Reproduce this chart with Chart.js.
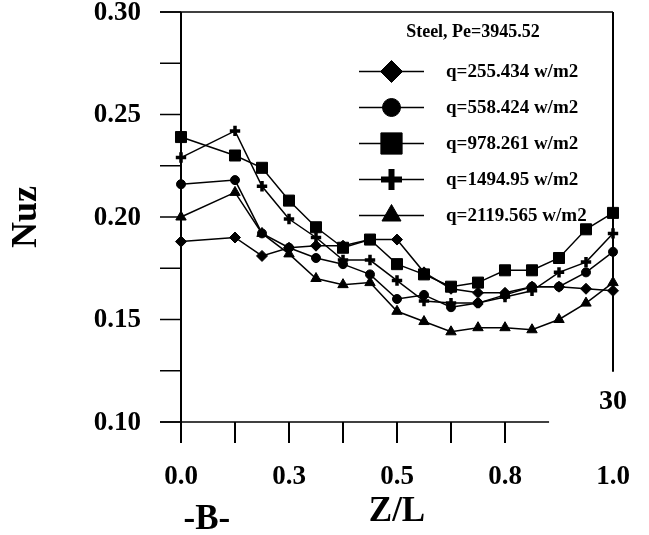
<!DOCTYPE html>
<html>
<head>
<meta charset="utf-8">
<script src="https://cdn.jsdelivr.net/npm/chart.js@4.4.1/dist/chart.umd.min.js"></script>
<style>
  html, body { margin: 0; padding: 0; background: #ffffff; }
  #wrap { width: 649px; height: 535px; position: relative; }
</style>
</head>
<body>
<div id="wrap"><canvas id="nuzChart"></canvas></div>
<script>
// Axial positions Z/L of the measuring stations
const zPositions = [0, 0.125, 0.1875, 0.25, 0.3125, 0.375, 0.4375, 0.5, 0.5625, 0.625, 0.6875, 0.75, 0.8125, 0.875, 0.9375, 1.0];

// Local Nusselt number for each heat flux
const nuzQ255  = [0.188, 0.190, 0.181, 0.185, 0.186, 0.186, 0.189, 0.189, 0.173, 0.165, 0.163, 0.163, 0.166, 0.166, 0.165, 0.164];
const nuzQ558  = [0.216, 0.218, 0.192, 0.185, 0.180, 0.177, 0.172, 0.160, 0.162, 0.156, 0.158, 0.162, 0.166, 0.166, 0.173, 0.183];
const nuzQ978  = [0.239, 0.230, 0.224, 0.208, 0.195, 0.185, 0.189, 0.177, 0.172, 0.166, 0.168, 0.174, 0.174, 0.180, 0.194, 0.202];
const nuzQ1495 = [0.229, 0.242, 0.215, 0.199, 0.190, 0.179, 0.179, 0.169, 0.159, 0.158, 0.158, 0.161, 0.164, 0.173, 0.178, 0.192];
const nuzQ2120 = [0.200, 0.212, 0.192, 0.182, 0.170, 0.167, 0.168, 0.154, 0.149, 0.144, 0.146, 0.146, 0.145, 0.150, 0.158, 0.168];

const seriesNames = ['q=255.434 w/m2', 'q=558.424 w/m2', 'q=978.261 w/m2', 'q=1494.95 w/m2', 'q=2119.565 w/m2'];
const seriesValues = [nuzQ255, nuzQ558, nuzQ978, nuzQ1495, nuzQ2120];

const legendTitle = 'Steel, Pe=3945.52';

// Axis ticks
const yMin = 0.10, yMax = 0.30, yMinorStep = 0.025;
const yTickValues = [0.10, 0.15, 0.20, 0.25, 0.30];
const yTickLabels = ['0.10', '0.15', '0.20', '0.25', '0.30'];
const xMinorStep = 0.125, xMinorLast = 0.75;
const xTickValues = [0, 0.25, 0.5, 0.75, 1.0];
const xTickLabels = ['0.0', '0.3', '0.5', '0.8', '1.0'];

const xTitle = 'Z/L';
const yTitle = 'Nuz';
const panelTag = '-B-';
const cornerTag = '30';

// Marker look per series: style, plot radius, legend radius, stroke widths
const markerStyles = [
  { style: 'rectRot',  r: 5.5, lr: 11,   bw: 1,   lbw: 1 },
  { style: 'circle',   r: 4.5, lr: 9,    bw: 1,   lbw: 1 },
  { style: 'rect',     r: 7.8, lr: 15,   bw: 1,   lbw: 1 },
  { style: 'cross',    r: 5.2, lr: 10.5, bw: 3.5, lbw: 6 },
  { style: 'triangle', r: 6,   lr: 11,   bw: 1,   lbw: 1 }
];

const FONT = '"Liberation Serif", "Times New Roman", Times, serif';

function drawMarker(ctx, style, x, y, r, bw) {
  ctx.save();
  ctx.fillStyle = '#000';
  ctx.strokeStyle = '#000';
  ctx.lineWidth = bw;
  const helpers = Chart.helpers;
  if (helpers && helpers.drawPoint) {
    helpers.drawPoint(ctx, { pointStyle: style, radius: r, rotation: 0, borderWidth: bw }, x, y);
  } else {
    ctx.beginPath();
    if (style === 'rectRot') {
      ctx.moveTo(x - r, y); ctx.lineTo(x, y - r); ctx.lineTo(x + r, y); ctx.lineTo(x, y + r); ctx.closePath(); ctx.fill();
    } else if (style === 'circle') {
      ctx.arc(x, y, r, 0, Math.PI * 2); ctx.fill();
    } else if (style === 'rect') {
      const s = r * Math.SQRT1_2; ctx.rect(x - s, y - s, 2 * s, 2 * s); ctx.fill();
    } else if (style === 'cross') {
      ctx.moveTo(x, y - r); ctx.lineTo(x, y + r); ctx.moveTo(x - r, y); ctx.lineTo(x + r, y); ctx.stroke();
    } else {
      ctx.moveTo(x, y - r); ctx.lineTo(x + 0.866 * r, y + 0.5 * r); ctx.lineTo(x - 0.866 * r, y + 0.5 * r); ctx.closePath(); ctx.fill();
    }
  }
  ctx.restore();
}

function line(ctx, x1, y1, x2, y2, w) {
  ctx.beginPath();
  ctx.lineWidth = w;
  ctx.moveTo(x1, y1);
  ctx.lineTo(x2, y2);
  ctx.stroke();
}

// Frame, ticks and axis text drawn from the chart's own scales
const axisFrame = {
  id: 'axisFrame',
  beforeDatasetsDraw(chart) {
    const ctx = chart.ctx;
    const xs = chart.scales.x, ys = chart.scales.y;
    const L = xs.getPixelForValue(0), R = xs.getPixelForValue(1);
    const T = ys.getPixelForValue(yMax), B = ys.getPixelForValue(yMin);
    const tick = 21;
    ctx.save();
    ctx.strokeStyle = '#000';
    ctx.lineCap = 'butt';
    // top border, extended over the tick length
    line(ctx, L - tick, T, R, T, 1.5);
    // left axis
    line(ctx, L, T, L, B, 2);
    // right border stops above the corner tag
    line(ctx, R, T, R, ys.getPixelForValue(0.1245), 2);
    // bottom axis stops short of the right edge
    line(ctx, L - tick, B, xs.getPixelForValue(0.852), B, 1.5);
    // y ticks (outside, every 0.025)
    for (let v = yMin; v <= yMax + 1e-9; v += yMinorStep) {
      const py = ys.getPixelForValue(v);
      line(ctx, L - tick, py, L, py, 1.5);
    }
    // x ticks (below, every 0.125 up to 0.75)
    for (let v = 0; v <= xMinorLast + 1e-9; v += xMinorStep) {
      const px = xs.getPixelForValue(v);
      line(ctx, px, B, px, B + tick, 2);
    }
    // tick labels
    ctx.fillStyle = '#000';
    ctx.font = 'bold 27px ' + FONT;
    ctx.textAlign = 'right';
    ctx.textBaseline = 'middle';
    yTickValues.forEach((v, i) => ctx.fillText(yTickLabels[i], L - 40, ys.getPixelForValue(v) + 1));
    ctx.textAlign = 'center';
    xTickValues.forEach((v, i) => ctx.fillText(xTickLabels[i], xs.getPixelForValue(v), B + 55));
    // corner tag
    ctx.font = 'bold 28px ' + FONT;
    ctx.fillText(cornerTag, R, B - 20);
    // axis titles
    ctx.font = 'bold 35px ' + FONT;
    ctx.fillText(xTitle, xs.getPixelForValue(0.5), B + 90);
    ctx.fillText(panelTag, xs.getPixelForValue(0.06), B + 98);
    ctx.save();
    ctx.translate(27, ys.getPixelForValue(0.20));
    ctx.rotate(-Math.PI / 2);
    ctx.font = 'bold 36px ' + FONT;
    ctx.fillText(yTitle, 0, 0);
    ctx.restore();
    ctx.restore();
  },
  afterDraw(chart) {
    // legend box in the upper right of the plot
    const ctx = chart.ctx;
    ctx.save();
    ctx.fillStyle = '#000';
    ctx.strokeStyle = '#000';
    ctx.font = 'bold 18px ' + FONT;
    ctx.textAlign = 'center';
    ctx.textBaseline = 'middle';
    ctx.fillText(legendTitle, 473, 32);
    ctx.font = 'bold 19px ' + FONT;
    ctx.textAlign = 'left';
    chart.data.datasets.forEach((ds, i) => {
      const y = 71.5 + i * 36;
      const m = markerStyles[i];
      line(ctx, 359, y, 424, y, 1.5);
      drawMarker(ctx, m.style, 391.5, y, m.lr, m.lbw);
      ctx.fillText(ds.label, 446, y + 1);
    });
    ctx.restore();
  }
};

const datasets = seriesValues.map((vals, i) => ({
  label: seriesNames[i],
  data: zPositions.map((z, k) => ({ x: z, y: vals[k] })),
  showLine: true,
  borderColor: '#000',
  borderWidth: 1.5,
  tension: 0,
  pointStyle: markerStyles[i].style,
  pointRadius: markerStyles[i].r,
  pointBackgroundColor: '#000',
  pointBorderColor: '#000',
  pointBorderWidth: markerStyles[i].bw,
  clip: false
}));

new Chart(document.getElementById('nuzChart'), {
  type: 'scatter',
  data: { datasets },
  options: {
    responsive: true,
    maintainAspectRatio: false,
    animation: false,
    devicePixelRatio: 1,
    layout: { padding: { left: 181, right: 36, top: 12, bottom: 113 } },
    plugins: { legend: { display: false }, tooltip: { enabled: false } },
    scales: {
      x: { type: 'linear', min: 0, max: 1, display: false },
      y: { type: 'linear', min: yMin, max: yMax, display: false }
    }
  },
  plugins: [axisFrame]
});
</script>
</body>
</html>
